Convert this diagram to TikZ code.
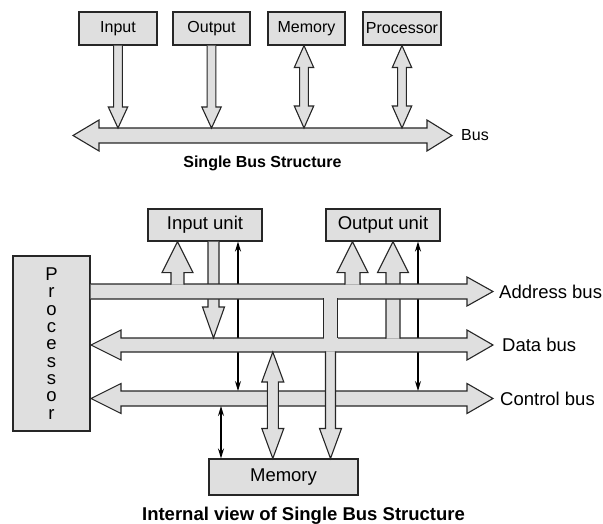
\documentclass[tikz,border=0pt]{standalone}
\usepackage{fontspec}
\setmainfont{Liberation Sans}
\usetikzlibrary{arrows.meta,calc}
\definecolor{busgray}{HTML}{DFDFDF}
\definecolor{edgecol}{HTML}{262626}

% hollow arrow from #1 to tip #2 (shaft half, head half, head length)
\newcommand{\fatarrow}[5]{%
  \draw[fat] let \p1=(#1), \p2=(#2), \p3=($(#2)!#5!(#1)$) in
    (\x2-#3,\y1) -- (\x2-#3,\y3) -- (\x2-#4,\y3) -- (\x2,\y2)
    -- (\x2+#4,\y3) -- (\x2+#3,\y3) -- (\x2+#3,\y1);}
% hollow double arrow between tips #1 and #2
\newcommand{\fatboth}[5]{%
  \draw[fat] let \p1=(#1), \p2=(#2), \p3=($(#1)!#5!(#2)$), \p4=($(#2)!#5!(#1)$) in
    (\x1,\y1) -- (\x1+#4,\y3) -- (\x1+#3,\y3) -- (\x1+#3,\y4) -- (\x1+#4,\y4)
    -- (\x1,\y2) -- (\x1-#4,\y4) -- (\x1-#3,\y4) -- (\x1-#3,\y3) -- (\x1-#4,\y3) -- cycle;}

\begin{document}
\begin{tikzpicture}[x=1pt,y=-1pt,
    box/.style={draw=edgecol, fill=busgray, line width=1.1pt, inner sep=0pt},
    fat/.style={draw=edgecol, fill=busgray, line width=1.1pt},
    ctrl/.style={draw=black, line width=1.2pt, {Stealth[length=10pt,width=6pt]}-{Stealth[length=10pt,width=6pt]}},
    lbl/.style={anchor=west, inner sep=0pt},
    small/.style={font=\fontsize{16}{19}\selectfont},
    big/.style={font=\fontsize{18.5}{22}\selectfont}]
\useasboundingbox (0,0) rectangle (603,524);

% Single bus structure
\coordinate (busT) at (0,128);
\node[box, small, minimum width=78pt, minimum height=33pt] (inp) at (118,28.5) {Input};
\node[box, small, minimum width=77pt, minimum height=33pt] (outp) at (211.5,28.5) {Output};
\node[box, small, minimum width=77pt, minimum height=33pt] (mem) at (306.5,28.5) {Memory};
\node[box, small, minimum width=78pt, minimum height=33pt] (proc) at (402,28.5) {Processor};

\draw[fat] (73,135.5) -- (99,120) -- (99,128) -- (427,128) -- (427,120) -- (452,135.5)
  -- (427,151) -- (427,143) -- (99,143) -- (99,151) -- cycle;
\node[lbl, small] (buslbl) at (461,135.5) {Bus};

\coordinate (memA) at ([xshift=-2.5pt]mem.south);
\fatarrow{inp.south}{inp.south |- busT}{4.4pt}{9.7pt}{21pt}
\fatarrow{outp.south}{outp.south |- busT}{4.4pt}{9.7pt}{21pt}
\fatboth{memA}{memA |- busT}{4.4pt}{9.7pt}{22pt}
\fatboth{proc.south}{proc.south |- busT}{4.4pt}{9.7pt}{22pt}

\node[font=\fontsize{16}{19}\selectfont\bfseries] (cap1) at (262.5,163) {Single Bus Structure};

% Internal view
\node[box, minimum width=77pt, minimum height=175pt, align=center,
  font=\fontsize{18.5}{17.3}\selectfont] (cpu) at (51.5,343.5) {P\\r\\o\\c\\e\\s\\s\\o\\r};
\node[box, big, minimum width=114pt, minimum height=32pt] (inunit) at (205,225) {Input unit};
\node[box, big, minimum width=114pt, minimum height=32pt] (outunit) at (383,225) {Output unit};
\node[box, big, minimum width=149pt, minimum height=36pt] (memunit) at (283.5,477) {Memory};

\coordinate (abT) at (0,284);
\coordinate (abB) at (0,299);
\coordinate (dbT) at (0,338);
\coordinate (dbB) at (0,352);
\coordinate (cbT) at (0,391);
\coordinate (cbB) at (0,406);

\coordinate (inL) at ([xshift=-27.5pt]inunit.south);
\coordinate (inR) at ([xshift=8.5pt]inunit.south);
\coordinate (inC) at ([xshift=33pt]inunit.south);
\coordinate (outL) at ([xshift=-30.5pt]outunit.south);
\coordinate (outR) at ([xshift=10pt]outunit.south);
\coordinate (outC) at ([xshift=35pt]outunit.south);
\coordinate (memL) at ([xshift=-10.7pt]memunit.north);
\coordinate (memR) at ([xshift=47pt]memunit.north);
\coordinate (memC) at ([xshift=-62.5pt]memunit.north);

% control lines behind the buses
\draw[ctrl] (inC) -- (inC |- cbT);
\draw[ctrl] (outC) -- (outC |- cbT);

% data and control bus
\draw[fat] (91,345) -- (121,330) -- (121,338) -- (467,338) -- (467,330) -- (493,345)
  -- (467,360) -- (467,352) -- (121,352) -- (121,360) -- cycle;
\draw[fat] (91,398.5) -- (121,383.5) -- (121,391) -- (467,391) -- (467,383.5) -- (493,398.5)
  -- (467,413.5) -- (467,406) -- (121,406) -- (121,413.5) -- cycle;

\coordinate (outRs) at ($(outR |- dbT)+(0,0.7)$);
\fatarrow{inR}{inR |- dbT}{5.5pt}{11pt}{31pt}
\fatarrow{outRs}{outR}{7pt}{15.5pt}{31pt}

% address bus
\draw[fat] (cpu.east |- abT) -- (467,284) -- (467,277) -- (493,291.5) -- (467,306)
  -- (467,299) -- (cpu.east |- abB);

\coordinate (inLs) at ($(inL |- abT)+(0,0.7)$);
\coordinate (outLs) at ($(outL |- abT)+(0,0.7)$);
\coordinate (memRs) at ($(memR |- dbB)+(0,-0.7)$);
\fatarrow{inLs}{inL}{6.5pt}{15.5pt}{31pt}
\fatarrow{outLs}{outL}{7.5pt}{15.5pt}{31pt}

\fill[busgray] ($(memR |- abB)+(-7pt,-0.7)$) rectangle ($(memR |- dbT)+(7pt,0.7)$);
\draw[fat, fill=none] ($(memR |- abB)+(-7pt,-0.7)$) -- ($(memR |- dbT)+(-7pt,0)$)
  ($(memR |- abB)+(7pt,-0.7)$) -- ($(memR |- dbT)+(7pt,0)$);
\fatarrow{memRs}{memR}{5pt}{11pt}{30pt}
\fatboth{memL |- dbB}{memL}{5.5pt}{11pt}{30pt}

\draw[ctrl] (memC |- cbB) -- (memC);

\node[lbl, big] (ablbl) at (499,291.5) {Address bus};
\node[lbl, big] (dblbl) at (502,345) {Data bus};
\node[lbl, big] (cblbl) at (500,398.5) {Control bus};

\node[font=\fontsize{18.5}{22}\selectfont\bfseries] (cap2) at (303.5,515.5) {Internal view of Single Bus Structure};
\end{tikzpicture}
\end{document}
